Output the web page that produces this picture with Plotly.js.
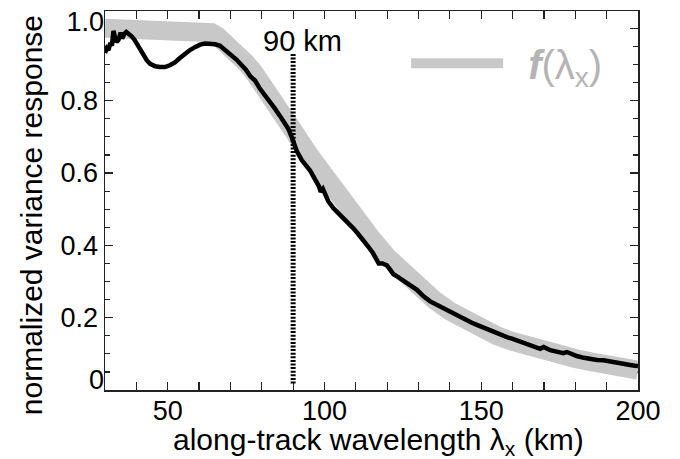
<!DOCTYPE html>
<html>
<head>
<meta charset="utf-8">
<script src="https://cdn.plot.ly/plotly-3.0.1.min.js"></script>
<style>html,body{margin:0;padding:0;background:#fff;}#chart{width:680px;height:459px;}</style>
</head>
<body>
<div id="chart"></div>
<script>
// measured variance response (black curve)
var respX = [30,30.6,31.1,31.7,32.2,32.7,33.2,33.7,34.3,35,35.5,36.1,36.8,37.6,38.5,39.3,40.1,41.2,42.2,43.3,44.4,46,47.5,49.1,50.7,52.3,53.9,55.5,57.1,58.7,60.3,61.9,63.5,65.1,66.7,67.7,69.9,72,73.6,75,76.3,77.9,79.5,81.1,82.6,84.2,85.8,87.4,88.5,89.3,90.1,91.2,92.8,94,95.4,96.5,97.5,98.3,98.8,99.5,100.5,101.2,102.8,104.4,106,107.6,109.2,110.5,111.9,113,114,115.5,116.8,117.3,118.5,119.9,121,122,123.5,125.2,127.3,129.5,131.6,133.7,135.8,137.5,139,140.6,142.2,143.8,145.4,147,148.6,150.2,151.8,153.4,155,156.6,158.2,159.8,161.4,163,164.6,166.7,168.8,169.9,171,172,174,176.2,177.3,178.9,180.5,182.7,184.8,187,189,191.1,192.7,194.3,196,197.5,199,200];
var respY = [0.932,0.945,0.94,0.96,0.952,0.993,0.975,0.962,0.968,0.988,0.972,0.984,0.99,0.986,0.978,0.97,0.958,0.944,0.926,0.912,0.902,0.895,0.893,0.893,0.898,0.906,0.918,0.93,0.94,0.948,0.955,0.958,0.958,0.956,0.952,0.945,0.93,0.913,0.898,0.885,0.868,0.855,0.832,0.815,0.795,0.778,0.758,0.738,0.722,0.705,0.685,0.66,0.635,0.622,0.607,0.59,0.576,0.562,0.548,0.556,0.536,0.522,0.503,0.489,0.476,0.464,0.447,0.434,0.42,0.408,0.396,0.378,0.36,0.35,0.35,0.345,0.332,0.32,0.312,0.302,0.29,0.277,0.259,0.245,0.236,0.228,0.221,0.214,0.207,0.2,0.193,0.186,0.18,0.174,0.168,0.164,0.158,0.152,0.146,0.142,0.137,0.131,0.126,0.12,0.114,0.119,0.113,0.11,0.106,0.102,0.105,0.099,0.094,0.089,0.085,0.083,0.082,0.078,0.075,0.072,0.07,0.069,0.067,0.066];

// model response f(lambda_x) (thick grey band)
var fX = [30,60.5,62,64,66,68,70,72.5,75,77.5,80,85,90,95,100,105,110,115,120,125,130,135,140,145,150,155,160,165,170,175,180,185,190,195,200];
var fY = [1,1,0.995,0.988,0.978,0.965,0.95,0.928,0.904,0.878,0.85,0.785,0.718,0.652,0.59,0.53,0.474,0.42,0.368,0.323,0.284,0.249,0.218,0.191,0.168,0.15,0.134,0.12,0.108,0.097,0.087,0.078,0.07,0.062,0.055];

// 90 km marker
var markX = [90, 90];
var markY = [0.018, 0.933];
var markLabel = '90 km';

var xTicks = [50, 100, 150, 200];
var yTicks = [0, 0.2, 0.4, 0.6, 0.8, 1.0];
var yTickText = ['', '0.2', '0.4', '0.6', '0.8', ''];
// end labels sit slightly inside the frame, as in the original
var yEndLabelPos = [0.03, 1.018];
var yEndLabelText = ['0', '1.0'];

var xTitle = 'along-track wavelength λ<sub>x</sub> (km)';
var yTitle = 'normalized variance response';
var legendName = '<b><i>f</i></b>(λ<sub>x</sub>)';

var FONT = 'Liberation Sans, Arial, Helvetica, sans-serif';

var traces = [
  {x: fX, y: fY, type: 'scatter', mode: 'lines', name: '\u2002' + legendName,
   line: {color: '#c8c8c8', width: 19}, showlegend: true, hoverinfo: 'skip'},
  {x: markX, y: markY, type: 'scatter', mode: 'lines', showlegend: false,
   line: {color: '#000', width: 5, dash: '2px,1.6px'}, hoverinfo: 'skip'},
  {x: respX, y: respY, type: 'scatter', mode: 'lines', showlegend: false,
   line: {color: '#000', width: 4.5}, hoverinfo: 'skip'}
];

var axisCommon = {
  showgrid: false, zeroline: false, showline: true, mirror: 'allticks',
  linecolor: '#222', linewidth: 1.5, ticks: 'inside', ticklen: 8, tickwidth: 1.2, tickcolor: '#222',
  tickfont: {family: FONT, size: 27, color: '#000'}, layer: 'below traces'
};

var layout = {
  width: 680, height: 459,
  margin: {l: 105, r: 42, t: 11, b: 69, pad: 0},
  paper_bgcolor: '#fff', plot_bgcolor: '#fff',
  font: {family: FONT, color: '#000'},
  xaxis: Object.assign({}, axisCommon, {
    range: [30, 200], tickmode: 'array', tickvals: xTicks, ticklabelstandoff: -4,
    minor: {dtick: 10, tick0: 0, ticks: 'inside', ticklen: 4.5, tickcolor: '#222', tickwidth: 1.2}
  }),
  yaxis: Object.assign({}, axisCommon, {
    range: [0, 1.048], tickmode: 'array', tickvals: yTicks, ticktext: yTickText,
    minor: {dtick: 0.05, tick0: 0, ticks: 'inside', ticklen: 5, tickcolor: '#222', tickwidth: 1.2}
  }),
  yaxis2: {
    overlaying: 'y', side: 'left', anchor: 'x', range: [0, 1.048], showgrid: false, zeroline: false,
    showline: false, ticks: '', tickmode: 'array', tickvals: yEndLabelPos, ticktext: yEndLabelText,
    tickfont: {family: FONT, size: 27, color: '#000'}
  },
  showlegend: true,
  legend: {x: 0.565, y: 0.862, xanchor: 'left', yanchor: 'middle', bgcolor: 'rgba(0,0,0,0)',
    itemwidth: 92, font: {family: FONT, size: 40, color: '#b4b4b4'}},
  annotations: [
    {x: markX[0], y: markY[1], xref: 'x', yref: 'y', text: markLabel, showarrow: false,
     xanchor: 'center', yanchor: 'bottom', xshift: 9.5, yshift: -6, font: {family: FONT, size: 29, color: '#000'}},
    {x: 0.513, y: -0.1346, xref: 'paper', yref: 'paper', text: xTitle, showarrow: false,
     xanchor: 'center', yanchor: 'middle', font: {family: FONT, size: 30, color: '#000'}},
    {x: -0.1385, y: 0.4617, xref: 'paper', yref: 'paper', text: yTitle, showarrow: false, textangle: -90,
     xanchor: 'center', yanchor: 'middle', font: {family: FONT, size: 30, color: '#000'}}
  ]
};

// dummy trace to activate the label-only overlay axis
traces.push({x: [30], y: [0], yaxis: 'y2', type: 'scatter', mode: 'markers', marker: {opacity: 0}, showlegend: false, hoverinfo: 'skip'});

Plotly.newPlot('chart', traces, layout, {displayModeBar: false, staticPlot: true});
</script>
</body>
</html>
